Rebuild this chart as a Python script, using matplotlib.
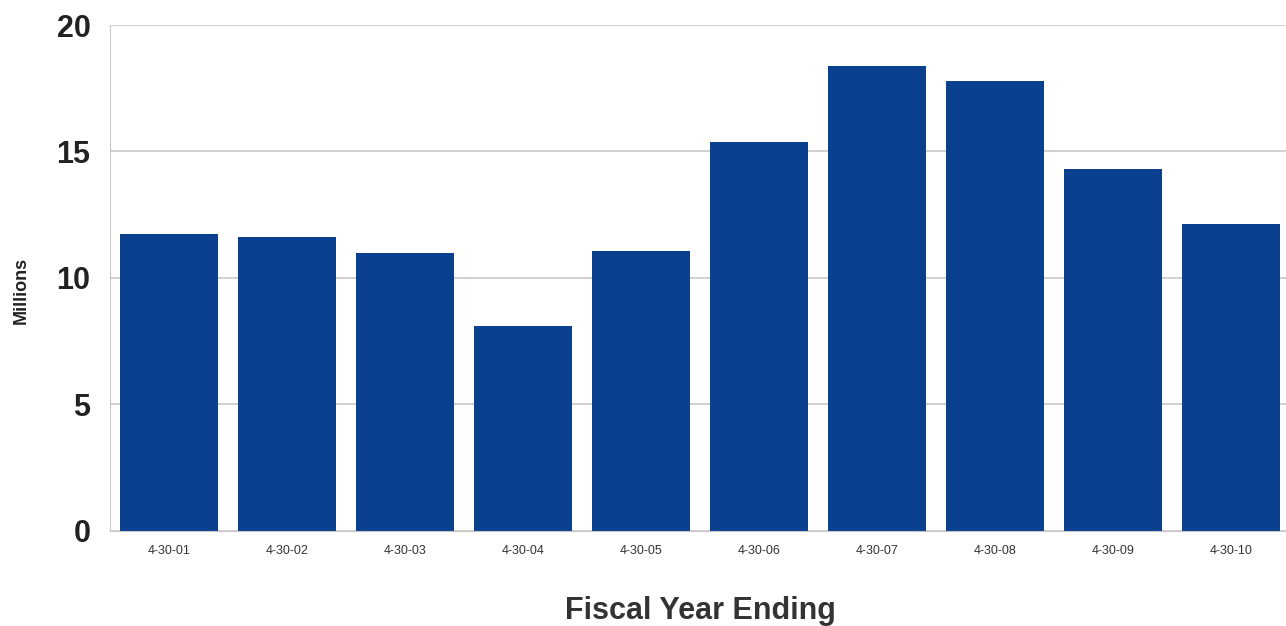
import matplotlib
matplotlib.use("Agg")
import matplotlib.pyplot as plt
import numpy as np

years = ["4-30-01", "4-30-02", "4-30-03", "4-30-04", "4-30-05",
         "4-30-06", "4-30-07", "4-30-08", "4-30-09", "4-30-10"]
millions = [11.75, 11.63, 10.99, 8.10, 11.07, 15.38, 18.38, 17.79, 14.31, 12.13]

plt.rcParams["font.family"] = ["Liberation Sans", "DejaVu Sans"]

fig = plt.figure(figsize=(12.86, 6.26), dpi=100)
ax = fig.add_axes([0.0855, 0.152, 0.918, 0.808])

x = np.arange(len(years))
ax.bar(x, millions, width=0.83, color="#0b408e", zorder=2)

ax.set_xlim(-0.5, len(years) - 0.5)
ax.set_ylim(0, 20)
ax.set_yticks([0, 5, 10, 15, 20])
ax.set_xticks(x)
ax.set_xticklabels(years, fontsize=9, color="#333333")
for lbl in ax.get_yticklabels():
    lbl.set_fontweight("bold")
    lbl.set_fontsize(22)
    lbl.set_color("#222222")
ax.tick_params(axis="both", length=0)
ax.tick_params(axis="x", pad=10)
ax.tick_params(axis="y", pad=14)

ax.grid(axis="y", color="#c8c8c8", linewidth=1.2, zorder=0)
for side in ["top", "right"]:
    ax.spines[side].set_visible(False)
ax.spines["left"].set_color("#c8c8c8")
ax.spines["bottom"].set_color("#c8c8c8")

ax.set_xlabel("Fiscal Year Ending", fontsize=22, fontweight="bold", color="#333333")
ax.xaxis.set_label_coords(0.5, -0.128)
ax.set_ylabel("Millions", fontsize=13, fontweight="bold", color="#222222")
ax.yaxis.set_label_coords(-0.068, 0.476)

fig.savefig("out.png", dpi=100)
